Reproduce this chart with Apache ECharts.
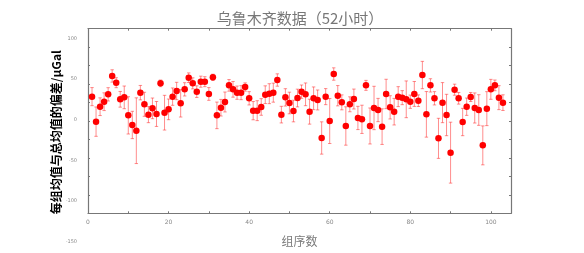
<!DOCTYPE html>
<html>
<head>
<meta charset="utf-8">
<script src="https://cdn.jsdelivr.net/npm/echarts@6/dist/echarts.min.js"></script>
<style>
html,body{margin:0;padding:0;background:#fff;}
#chart{width:584px;height:253px;}
</style>
</head>
<body>
<div id="chart"></div>
<script>
// Deviation of each group mean from the overall mean (μGal)
const groupValues = [
  26.4, -0.7, 15.5, 20.9, 28.9, 48.8, 41.5, 23.5, 25.6, 6.1,
  -4.3, -10.5, 30.7, 18.1, 6.9, 13.7, 7.6, 40.8, 9.0, 12.6,
  26.4, 32.5, 19.1, 34.3, 46.9, 40.8, 31.8, 42.6, 42.6, 29.3,
  47.3, 6.1, 14.4, 20.6, 38.6, 34.3, 30.7, 30.7, 36.8, 24.6,
  11.2, 11.2, 15.2, 28.5, 29.6, 30.7, 44.4, 6.9, 25.6, 19.5,
  10.8, 24.9, 31.8, 28.9, 10.1, 24.6, 22.8, -18.4, 26.4, 0.0,
  50.9, 27.4, 20.2, -5.4, 18.1, 23.8, 3.3, 1.8, 38.6, -5.4,
  14.1, 11.9, -6.1, 29.3, 14.8, 10.1, 26.4, 25.3, 23.5, 20.9,
  29.3, 22.0, 49.8, 7.2, 38.6, 24.6, -18.8, 19.9, 6.5, -34.3,
  33.9, 24.6, -1.1, 15.5, 26.0, 14.1, 11.9, -26.4, 13.4, 34.3,
  38.6, 25.3, 19.9
];
// Half-length of each error bar (μGal)
const groupErrors = [
  9.8, 15.9, 9.6, 9.6, 7.2, 6.7, 5.4, 8.5, 12.3, 20.2,
  14.8, 35.6, 7.8, 13.0, 8.7, 11.2, 13.5, 3.6, 18.8, 11.2,
  9.4, 9.4, 14.8, 7.2, 5.2, 6.0, 6.3, 6.0, 5.4, 6.9,
  3.4, 14.4, 9.0, 10.8, 6.3, 8.5, 7.2, 7.6, 4.5, 7.2,
  9.9, 10.8, 9.0, 9.6, 10.8, 10.3, 6.7, 9.0, 9.4, 11.7,
  11.7, 9.6, 7.2, 12.3, 13.5, 12.3, 10.8, 17.5, 8.7, 24.4,
  6.7, 11.0, 8.1, 20.8, 8.1, 10.8, 12.6, 15.3, 5.4, 19.5,
  23.5, 12.6, 19.3, 15.9, 12.6, 14.4, 10.8, 7.6, 19.9, 7.2,
  13.5, 6.3, 14.8, 24.7, 7.2, 7.2, 21.7, 21.7, 22.4, 33.0,
  6.0, 6.3, 14.8, 9.4, 4.9, 16.3, 16.6, 21.1, 18.4, 10.8,
  5.8, 13.0, 8.5
];
const groupNumbers = groupValues.map((_, k) => k + 1);
const yTickLabels = [-150, -100, -50, 0, 50, 100];
const xTickLabels = [0, 20, 40, 60, 80, 100];

const titleText = '乌鲁木齐数据（52小时）';
const xName = '组序数';
const yName = '每组均值与总均值的偏差/μGal';

const pointData = groupNumbers.map((g, k) => [g, groupValues[k]]);
const barData = groupNumbers.map((g, k) => [g, groupValues[k], groupErrors[k]]);

const axisColor = '#777';
const chart = echarts.init(document.getElementById('chart'), null, {renderer: 'canvas'});
const boxAxis = {
  axisLine: {show: true, onZero: false, lineStyle: {color: axisColor, width: 1.2}},
  axisTick: {show: true, inside: true, length: 2, lineStyle: {color: axisColor}},
  splitLine: {show: false}
};

chart.setOption({
  animation: false,
  backgroundColor: '#fff',
  title: {
    text: titleText,
    left: 300,
    textAlign: 'center',
    top: 11,
    padding: 0,
    textStyle: {fontFamily: 'Noto Sans CJK SC', fontSize: 15, fontWeight: 'normal', color: '#777'}
  },
  grid: [
    {left: 88, right: 73, top: 28.7, bottom: 39.7},
    {left: 88, right: 73, top: 38.3, bottom: 11.3}
  ],
  xAxis: [
    Object.assign({}, boxAxis, {
      type: 'value', gridIndex: 0, position: 'bottom', min: 0, max: 105, interval: 10,
      axisLabel: {
        show: true, fontSize: 6, color: '#888', margin: 6, fontFamily: 'DejaVu Sans',
        showMaxLabel: false,
        formatter: v => (xTickLabels.indexOf(v) >= 0 ? String(v) : '')
      },
      name: xName, nameLocation: 'middle', nameGap: 22,
      nameTextStyle: {fontFamily: 'Noto Sans CJK SC', fontSize: 12, color: '#7a7a7a'}
    }),
    Object.assign({}, boxAxis, {
      type: 'value', gridIndex: 0, position: 'top', min: 0, max: 105, interval: 10,
      axisLabel: {show: false}
    }),
    {type: 'value', gridIndex: 1, show: false, min: 0, max: 105}
  ],
  yAxis: [
    Object.assign({}, boxAxis, {
      type: 'value', gridIndex: 0, position: 'left', min: -100, max: 100, interval: 20,
      axisLabel: {show: false}
    }),
    Object.assign({}, boxAxis, {
      type: 'value', gridIndex: 0, position: 'right', min: -100, max: 100, interval: 20,
      axisLabel: {show: false}
    }),
    {
      type: 'value', gridIndex: 1, position: 'left', min: -150, max: 100, interval: 50,
      axisLine: {show: false}, axisTick: {show: false}, splitLine: {show: false},
      axisLabel: {
        show: true, fontSize: 5, color: '#888', margin: 11, fontFamily: 'DejaVu Sans',
        formatter: v => (yTickLabels.indexOf(v) >= 0 ? String(v) : '')
      }
    }
  ],
  graphic: [
    {
      type: 'text', x: 56.7, y: 132.2, rotation: Math.PI / 2,
      style: {
        text: yName, align: 'center', verticalAlign: 'middle',
        font: 'bold 12px "Noto Sans CJK SC"', fill: '#000'
      }
    }
  ],
  series: [
    {
      type: 'custom', xAxisIndex: 0, yAxisIndex: 0, z: 2,
      data: barData,
      renderItem: function (params, api) {
        const x = api.value(0), y = api.value(1), e = api.value(2);
        const top = api.coord([x, y + e]);
        const bot = api.coord([x, y - e]);
        const cap = 1.7;
        const st = {stroke: 'rgba(255,30,30,0.5)', lineWidth: 1};
        return {
          type: 'group',
          children: [
            {type: 'line', shape: {x1: top[0], y1: top[1], x2: bot[0], y2: bot[1]}, style: st},
            {type: 'line', shape: {x1: top[0] - cap, y1: top[1], x2: top[0] + cap, y2: top[1]}, style: st},
            {type: 'line', shape: {x1: bot[0] - cap, y1: bot[1], x2: bot[0] + cap, y2: bot[1]}, style: st}
          ]
        };
      }
    },
    {
      type: 'scatter', xAxisIndex: 0, yAxisIndex: 0, z: 3,
      data: pointData, symbol: 'circle', symbolSize: 6.5,
      itemStyle: {color: '#ff0000', opacity: 1}
    }
  ]
});
</script>
</body>
</html>
